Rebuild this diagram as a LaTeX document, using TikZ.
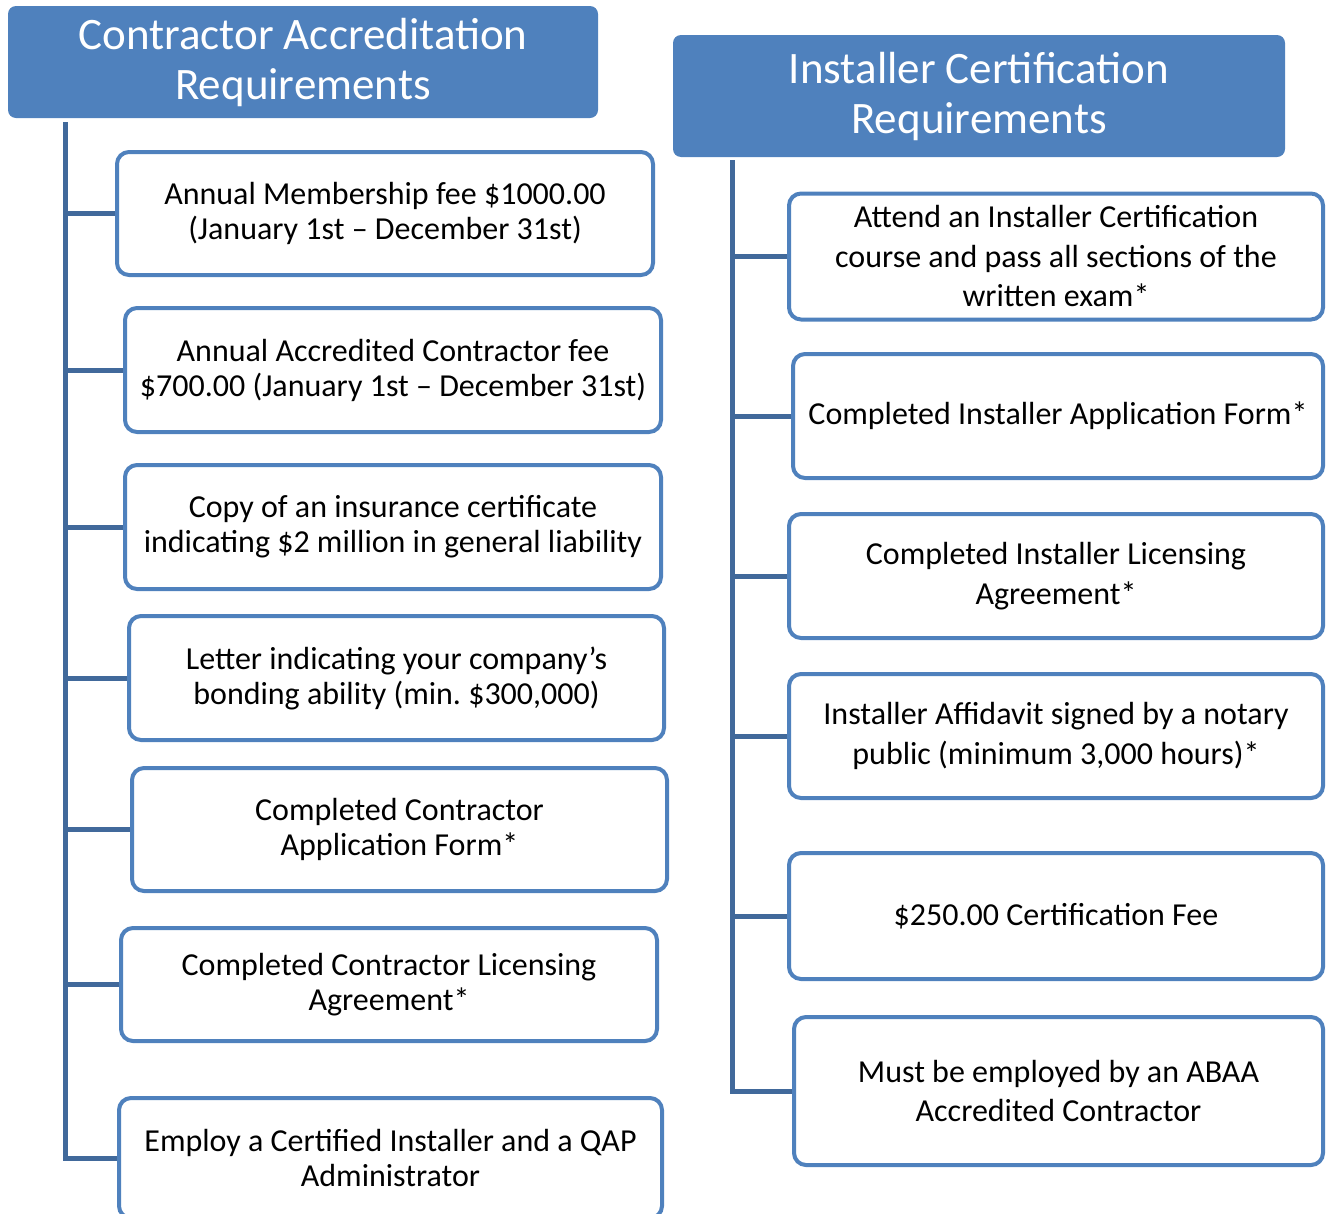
\documentclass[tikz,border=0pt]{standalone}
\usepackage{fontspec}
\setmainfont{Carlito}
\frenchspacing
\usetikzlibrary{backgrounds}
\definecolor{acc}{HTML}{4F81BD}
\definecolor{conn}{HTML}{41699B}
\tikzset{
  hdr/.style={rectangle, rounded corners=8pt, fill=acc, draw=none, text=white, align=center,
    font=\fontsize{45}{50}\selectfont, inner sep=0pt},
  itembox/.style={rectangle, rounded corners=12pt, draw=acc, line width=4pt, fill=white, align=center,
    font=\fontsize{32}{35}\selectfont, inner sep=0pt},
  ritem/.style={itembox, font=\fontsize{32}{39.5}\selectfont},
  trunk/.style={draw=conn, line width=5pt}
}
\begin{document}
\begin{tikzpicture}[x=1pt,y=-1pt]
\useasboundingbox (0,0) rectangle (1327,1213);
\clip (0,0) rectangle (1327,1213);
% headers
\node[hdr, minimum width=590pt, minimum height=112pt] (h1) at (303,62) {Contractor Accreditation\\Requirements};
\node[hdr, minimum width=612pt, minimum height=122pt] (h2) at (979,96) {Installer Certification\\Requirements};
% left items
\node[itembox, minimum width=536pt, minimum height=123pt] (l1) at (385,213.5) {Annual Membership fee \$1000.00\\(January 1st -- December 31st)};
\node[itembox, minimum width=536pt, minimum height=124pt] (l2) at (393,370) {Annual Accredited Contractor fee\\\$700.00 (January 1st -- December 31st)};
\node[itembox, minimum width=536pt, minimum height=124pt] (l3) at (393,527) {Copy of an insurance certificate\\indicating \$2 million in general liability};
\node[itembox, minimum width=535pt, minimum height=124pt] (l4) at (396.5,678) {Letter indicating your company’s\\bonding ability (min. \$300,000)};
\node[itembox, minimum width=535pt, minimum height=123pt] (l5) at (399.5,829.5) {Completed Contractor\\Application Form*};
\node[itembox, minimum width=536pt, minimum height=113pt] (l6) at (389,984.5) {Completed Contractor Licensing\\Agreement*};
\node[itembox, minimum width=543pt, minimum height=120pt] (l7) at (390.5,1158) {Employ a Certified Installer and a QAP\\Administrator};
% right items
\node[ritem, minimum width=534pt, minimum height=126pt] (r1) at (1056,256.5) {Attend an Installer Certification\\course and pass all sections of the\\written exam*};
\node[ritem, minimum width=530pt, minimum height=124pt] (r2) at (1058,416) {Completed Installer Application Form*};
\node[ritem, minimum width=534pt, minimum height=124pt] (r3) at (1056,576) {Completed Installer Licensing\\Agreement*};
\node[ritem, minimum width=534pt, minimum height=124pt] (r4) at (1056,736) {Installer Affidavit signed by a notary\\public (minimum 3,000 hours)*};
\node[ritem, minimum width=534pt, minimum height=126pt] (r5) at (1056,916) {\$250.00 Certification Fee};
\node[ritem, minimum width=529pt, minimum height=148pt] (r6) at (1058.5,1091) {Must be employed by an ABAA\\Accredited Contractor};
% connectors
\coordinate (tl) at (65,122);
\coordinate (tr) at (732,160);
\begin{scope}[on background layer]
  \draw[trunk] (tl) |- (l7.west);
  \foreach \i in {1,...,6} { \draw[trunk] (tl |- l\i.west) -- (l\i.west); }
  \draw[trunk] (tr) |- (r6.west);
  \foreach \i in {1,...,5} { \draw[trunk] (tr |- r\i.west) -- (r\i.west); }
\end{scope}
\end{tikzpicture}
\end{document}
